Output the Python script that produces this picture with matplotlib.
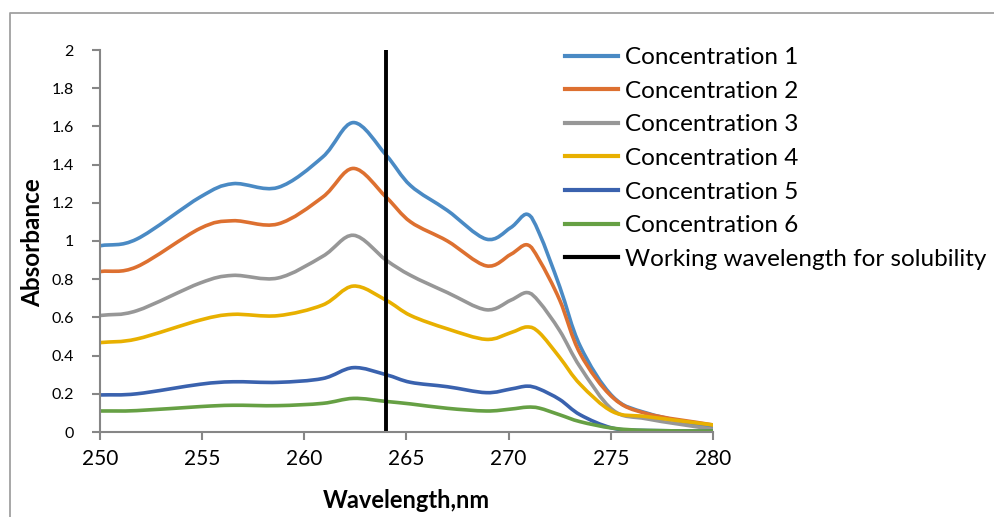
import numpy as np
import matplotlib.pyplot as plt
from matplotlib.path import Path
from matplotlib.patches import PathPatch
from matplotlib.lines import Line2D

plt.rcParams['font.family'] = ['Lato', 'DejaVu Sans']

wavelength = [250, 251.8, 254.9, 256.5, 258.7, 260.9, 262.4, 264, 265.2, 267,
              268.9, 270.1, 270.9, 271.5, 272.5, 273.5, 275.1, 276.8, 280]
conc1 = [0.975, 1.01, 1.23, 1.30, 1.28, 1.44, 1.62, 1.45, 1.29, 1.16,
         1.01, 1.07, 1.14, 1.04, 0.76, 0.45, 0.185, 0.098, 0.02]
conc2 = [0.84, 0.865, 1.066, 1.106, 1.089, 1.23, 1.38, 1.23, 1.10, 1.00,
         0.87, 0.93, 0.98, 0.90, 0.69, 0.41, 0.18, 0.095, 0.037]
conc3 = [0.61, 0.635, 0.78, 0.82, 0.806, 0.92, 1.03, 0.90, 0.82, 0.73,
         0.64, 0.69, 0.73, 0.68, 0.53, 0.34, 0.115, 0.068, 0.014]
conc4 = [0.468, 0.487, 0.586, 0.616, 0.609, 0.665, 0.764, 0.69, 0.61, 0.54,
         0.485, 0.52, 0.55, 0.52, 0.39, 0.25, 0.106, 0.08, 0.037]
conc5 = [0.194, 0.20, 0.25, 0.263, 0.26, 0.28, 0.337, 0.30, 0.26, 0.237,
         0.206, 0.225, 0.24, 0.225, 0.17, 0.09, 0.02, 0.008, 0.005]
conc6 = [0.11, 0.112, 0.133, 0.14, 0.138, 0.15, 0.176, 0.16, 0.147, 0.124,
         0.11, 0.12, 0.13, 0.125, 0.09, 0.054, 0.02, 0.008, 0.005]
labels = ['Concentration 1', 'Concentration 2', 'Concentration 3',
          'Concentration 4', 'Concentration 5', 'Concentration 6']
colors = ['#4A8AC4', '#DD7030', '#979797', '#E8B000', '#3A62AE', '#66A044']
work_wl = 264


def smooth_path(x, y):
    # excel style smoothed line: catmull-rom segments as cubic beziers
    p = np.column_stack([x, y]).astype(float)
    n = len(p)
    verts = [p[0]]
    codes = [Path.MOVETO]
    for i in range(n - 1):
        p0 = p[i - 1] if i > 0 else 2 * p[0] - p[1]
        p3 = p[i + 2] if i + 2 < n else 2 * p[-1] - p[-2]
        c1 = p[i] + (p[i + 1] - p0) / 6
        c2 = p[i + 1] - (p3 - p[i]) / 6
        verts += [c1, c2, p[i + 1]]
        codes += [Path.CURVE4] * 3
    return Path(verts, codes)


fig = plt.figure(figsize=(9.95, 5.17), dpi=100)
ax = fig.add_axes([100/995, 1 - 432/517, 613/995, 382/517])

series = [conc1, conc2, conc3, conc4, conc5, conc6]
handles = []
for ys, c, lab in zip(series, colors, labels):
    ax.add_patch(PathPatch(smooth_path(wavelength, ys), facecolor='none',
                           edgecolor=c, lw=2.6, capstyle='round'))
    handles.append(Line2D([], [], color=c, lw=3, label=lab))
ax.plot([work_wl, work_wl], [0, 2], color='black', lw=2.8)
handles.append(Line2D([], [], color='black', lw=3,
                      label='Working wavelength for solubility'))

ax.set_xlim(250, 280)
ax.set_ylim(0, 2)
ax.set_xticks(range(250, 281, 5))
ax.set_yticks(np.arange(0, 2.01, 0.2))
ax.set_yticklabels(['0', '0.2', '0.4', '0.6', '0.8', '1', '1.2', '1.4', '1.6', '1.8', '2'])
for s in ['top', 'right']:
    ax.spines[s].set_visible(False)
for s in ['left', 'bottom']:
    ax.spines[s].set_color('#868686')
    ax.spines[s].set_linewidth(1.5)
ax.tick_params(axis='x', colors='#868686', labelcolor='black', length=6, width=1.5,
               labelsize=15, pad=6)
ax.tick_params(axis='y', colors='#868686', labelcolor='black', length=6, width=1.5,
               labelsize=11.5, pad=13)
ax.set_xlabel('Wavelength,nm', fontsize=17, fontweight='bold')
ax.set_ylabel('Absorbance', fontsize=17.5, fontweight='bold')
ax.xaxis.set_label_coords((406 - 100) / 613, -(489 - 432) / 382)
ax.yaxis.set_label_coords(-(100 - 44) / 613, (432 - 243) / 382)

fig.legend(handles=handles, loc='upper left', bbox_to_anchor=(565/995, 1 - 47/517),
           frameon=False, fontsize=17.5, handlelength=2.2, handletextpad=0.25,
           labelspacing=0.52, borderpad=0, borderaxespad=0)

# outer chart frame
fig.add_artist(Line2D([10.5/995, 10.5/995, 1], [0, 1 - 12.5/517, 1 - 12.5/517],
                      transform=fig.transFigure, color='#A0A0A0', lw=1.3))

fig.savefig('out.png', dpi=100)
